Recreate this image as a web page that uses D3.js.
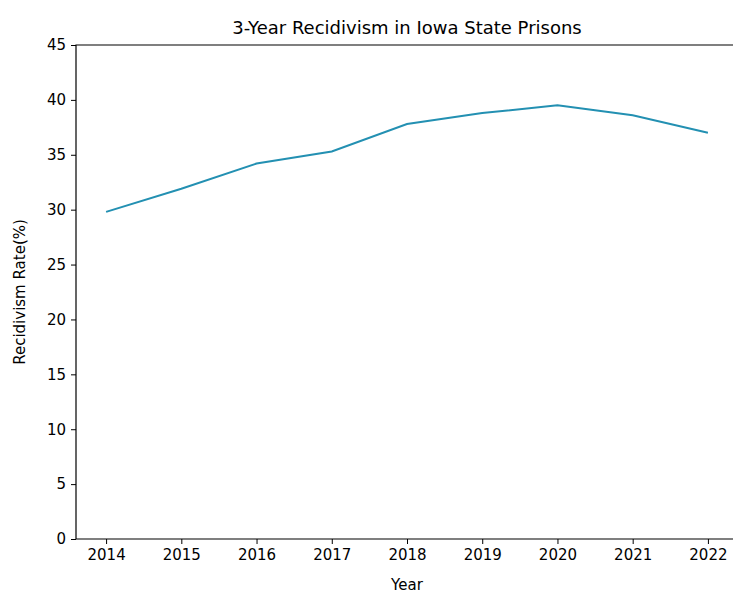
<!DOCTYPE html>
<html>
<head>
<meta charset="utf-8">
<script src="https://cdn.jsdelivr.net/npm/d3@7"></script>
<style>
  html, body { margin: 0; background: #fff; overflow: hidden; }
  svg { display: block; font-family: "DejaVu Sans", sans-serif; overflow: hidden; }
</style>
</head>
<body>
<div id="chart"></div>
<script>
const years = [2014, 2015, 2016, 2017, 2018, 2019, 2020, 2021, 2022];
const rates = [29.8, 31.9, 34.2, 35.3, 37.8, 38.8, 39.5, 38.6, 37.0];
const yTicks = [0, 5, 10, 15, 20, 25, 30, 35, 40, 45];

const width = 733, height = 595;
const margin = { top: 45, right: -5, bottom: 56, left: 76 };
const innerW = width - margin.left - margin.right;
const innerH = height - margin.top - margin.bottom;

const svg = d3.select('#chart').append('svg')
    .attr('width', width)
    .attr('height', height);

const g = svg.append('g')
    .attr('transform', `translate(${margin.left},${margin.top})`);

const x = d3.scaleLinear()
    .domain([2013.6, 2022.4])
    .range([0, innerW]);

const y = d3.scaleLinear()
    .domain([0, 45])
    .range([innerH, 0]);

// spines (right one falls outside the window)
const frame = g.append('path')
    .attr('d', `M${innerW},0H0V${innerH}H${innerW}`)
    .attr('fill', 'none')
    .attr('stroke', '#000')
    .attr('stroke-width', 1.2);

const xAxis = g.append('g')
    .attr('transform', `translate(0,${innerH})`)
    .call(d3.axisBottom(x).tickValues(years).tickFormat(d3.format('d')).tickSize(5).tickPadding(5));

const yAxis = g.append('g')
    .call(d3.axisLeft(y).tickValues(yTicks).tickSize(5).tickPadding(5));

[xAxis, yAxis].forEach(a => {
    a.select('.domain').remove();
    a.selectAll('text').style('font-size', '15px').attr('fill', '#000').style('font-family', '"DejaVu Sans", sans-serif');
    a.selectAll('line').attr('stroke', '#000');
});

const line = d3.line()
    .x((d, i) => x(years[i]))
    .y(d => y(d));

g.append('path')
    .datum(rates)
    .attr('d', line)
    .attr('fill', 'none')
    .attr('stroke', '#2390b2')
    .attr('stroke-width', 2);

svg.append('text')
    .attr('x', margin.left + innerW / 2)
    .attr('y', 34)
    .attr('text-anchor', 'middle')
    .style('font-size', '18px')
    .text('3-Year Recidivism in Iowa State Prisons');

svg.append('text')
    .attr('x', margin.left + innerW / 2)
    .attr('y', 590)
    .attr('text-anchor', 'middle')
    .style('font-size', '15px')
    .text('Year');

svg.append('text')
    .attr('transform', `translate(25,${margin.top + innerH / 2}) rotate(-90)`)
    .attr('text-anchor', 'middle')
    .style('font-size', '15px')
    .text('Recidivism Rate(%)');
</script>
</body>
</html>
